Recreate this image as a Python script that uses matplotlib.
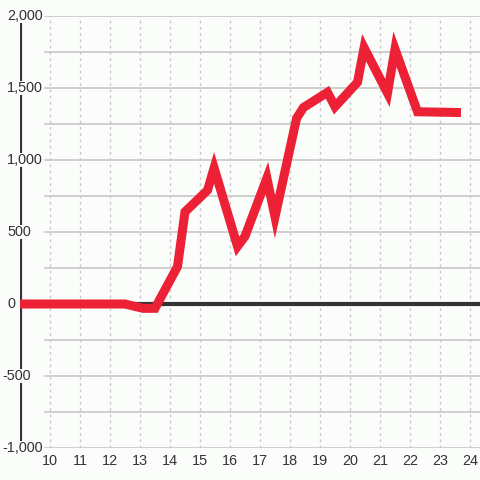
import matplotlib
matplotlib.use("Agg")
import matplotlib.pyplot as plt
from matplotlib import transforms

# data
x_vals = [9.0, 12.5, 13.1, 13.5, 14.25, 14.5, 15.25, 15.47, 16.25, 16.5, 17.23, 17.5,
          18.22, 18.45, 19.25, 19.5, 20.25, 20.47, 21.25, 21.5, 22.25, 23.55]
y_vals = [0, 0, -30, -30, 260, 640, 790, 945, 400, 470, 875, 605,
          1290, 1365, 1470, 1370, 1540, 1780, 1465, 1770, 1335, 1330]
y_ticks = [-1000, -500, 0, 500, 1000, 1500, 2000]
x_ticks = list(range(10, 25))

bg = '#fbfdfb'
red = '#ec2136'
dark = '#333333'
grid_col = '#c8c8c8'

fig = plt.figure(figsize=(4.8, 4.8), dpi=100, facecolor=bg)
ax = fig.add_axes([20/480, 32/480, 460/480, 432/480], facecolor=bg)
ax.set_xlim(9, 9 + 460/30)
ax.set_ylim(-1000, 2000)
for s in ax.spines.values():
    s.set_visible(False)
ax.set_xticks([])
ax.set_yticks([])

# horizontal grid every 250
for v in range(-1000, 2001, 250):
    ax.axhline(v, xmin=25/460, xmax=1, color=grid_col, lw=1.2, zorder=1)
# vertical dotted grid
for xv in x_ticks:
    ax.axvline(xv, color=grid_col, lw=1, ls=(0, (2, 2.5)), zorder=1)

# left axis line and zero line
ax.axvline(9, color=dark, lw=3, zorder=3)
ax.axhline(0, color=dark, lw=3, zorder=3)

ax.plot(x_vals, y_vals, color=red, lw=6.5, solid_joinstyle='miter', zorder=4)

# y labels sit over the axis line with a background box
trans = transforms.blended_transform_factory(fig.transFigure, ax.transData)
for v in y_ticks:
    left = 2 if v < 0 else 7
    ax.text(left / 480, v, f"{v:,}", ha='left', va='center', fontsize=10.4,
            family='Liberation Sans', color=dark, zorder=5, transform=trans,
            bbox=dict(facecolor=bg, edgecolor='none', pad=0.3))
for xv in x_ticks:
    ax.text(xv, -1000 - 92, str(xv), ha='center', va='center', fontsize=10.4,
            family='Liberation Sans', color=dark, clip_on=False)

fig.savefig('out.png', dpi=100, facecolor=bg)
